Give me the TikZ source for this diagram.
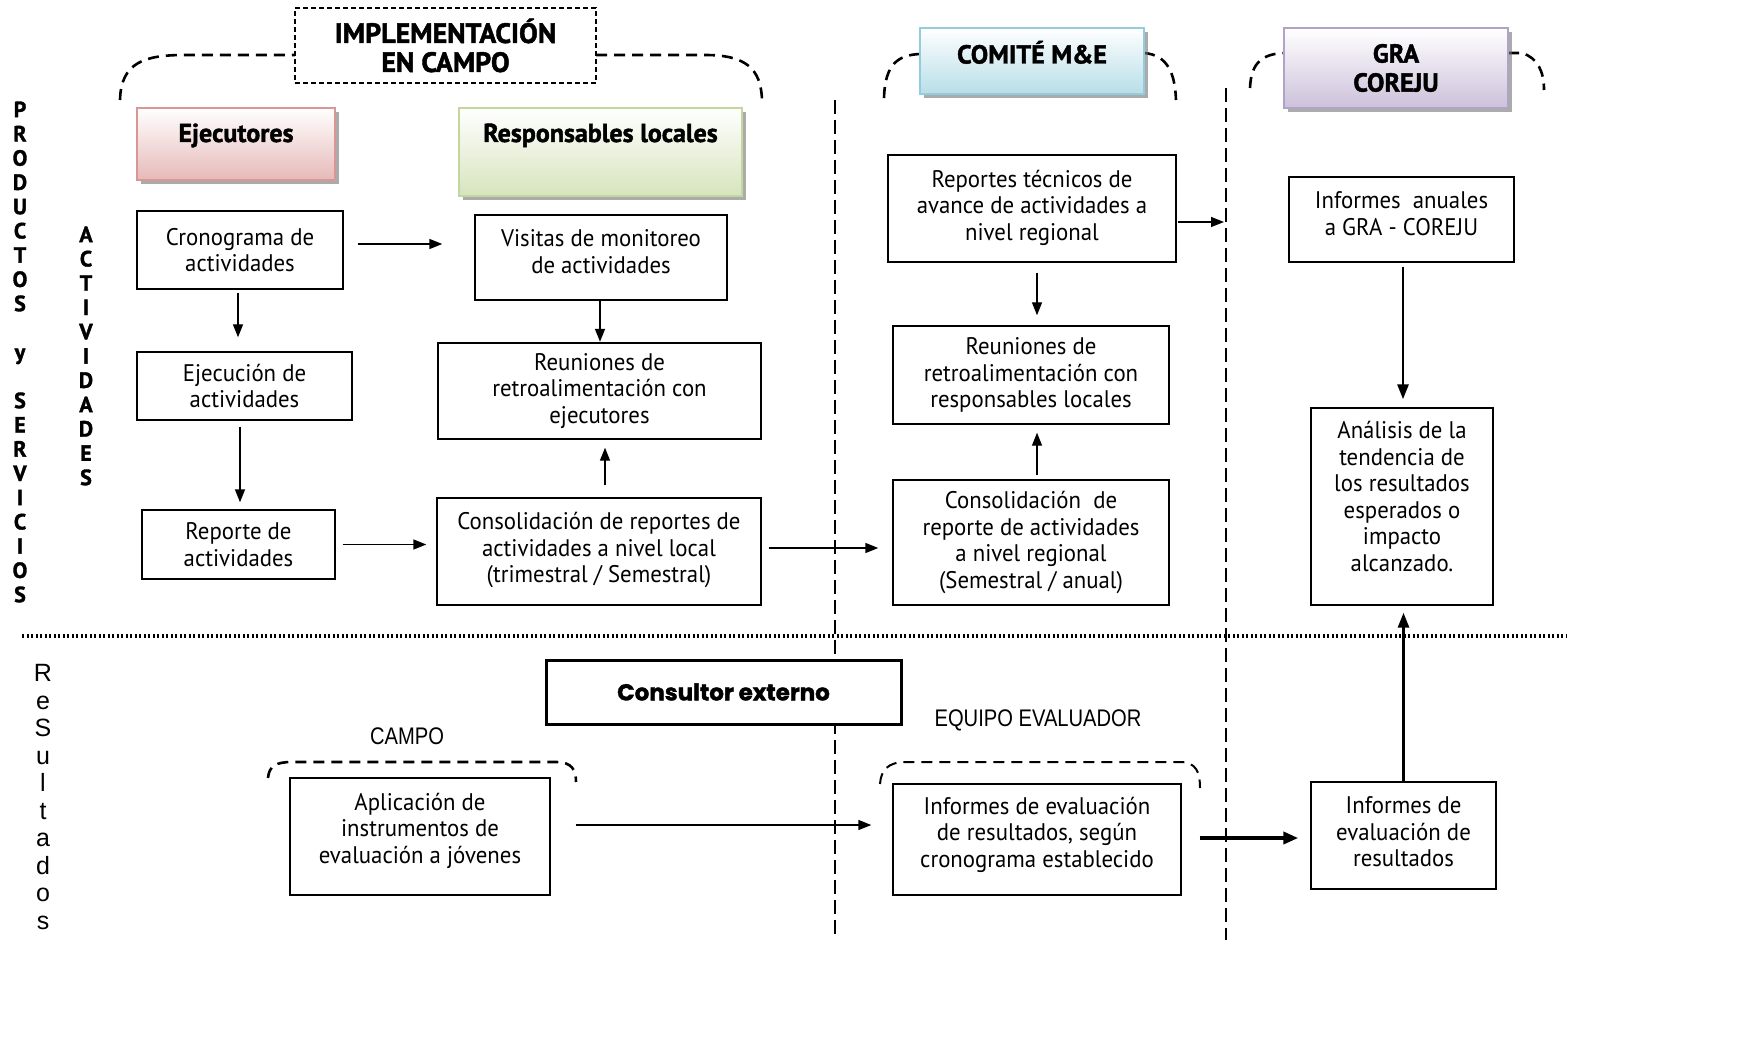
\documentclass[tikz,border=0pt]{standalone}
\usepackage{fontspec}
\setmainfont{PT Sans}[FakeStretch=0.95]
\newfontfamily\hfont{PT Sans}[BoldFeatures={FakeBold=1.6}]
\newfontfamily\heavyfont{Poppins}[BoldFeatures={FakeBold=1.5}]
\newfontfamily\arialfont{Liberation Sans}
\newfontfamily\narrowfont{Liberation Sans}[FakeStretch=0.84]
\usetikzlibrary{arrows.meta,shadows,calc}
\definecolor{ejeB}{HTML}{D99694}\definecolor{ejeF}{HTML}{E6B9B8}
\definecolor{resB}{HTML}{C3D69B}\definecolor{resF}{HTML}{D7E4BD}
\definecolor{comB}{HTML}{93CDDD}\definecolor{comF}{HTML}{B7DEE8}
\definecolor{graB}{HTML}{B3A2C7}\definecolor{graF}{HTML}{CCC1DA}
\newcommand\rbx[2]{\raisebox{#1}[0pt][0pt]{\begin{tabular}{@{}c@{}}#2\end{tabular}}}
\tikzset{
 cbox/.style={draw=black, line width=1.4pt, fill=white, align=center, inner sep=2pt,
   font=\fontsize{24}{26.5}\selectfont},
 hdr/.style={line width=1.6pt, align=center, inner sep=2pt,
   font=\hfont\bfseries\fontsize{26}{29}\selectfont,
   drop shadow={shadow xshift=4pt, shadow yshift=-4pt, fill=black!55, opacity=.6}},
 arr/.style={line width=1.4pt, -{Triangle[length=13pt,width=10pt]}},
 tarr/.style={line width=2.8pt, -{Triangle[length=15pt,width=11pt]}},
 brk/.style={line width=2.6pt, dash pattern=on 11pt off 7pt},
 divider/.style={line width=1.3pt, dash pattern=on 14pt off 6pt},
 vlet/.style={align=center, inner sep=0pt},
}
\begin{document}
\begin{tikzpicture}[x=1pt,y=-1pt]
\useasboundingbox (0,0) rectangle (1751,1048);
\fill[white] (0,0) rectangle (1751,1048);

% dividers
\coordinate (d1top) at (835,100); \coordinate (d1bot) at (835,940);
\coordinate (d2top) at (1226,88); \coordinate (d2bot) at (1226,940);
\coordinate (hl) at (22,636); \coordinate (hr) at (1566,636);
\draw[divider] (d1top) -- (d1bot);
\draw[divider] (d2top) -- (d2bot);
\draw[line width=3.5pt, dash pattern=on 2pt off 2.5pt] (hl) -- (hr);

% dashed brackets
\draw[brk] (120,100) .. controls (121,62) and (145,55) .. (185,55) -- (295,55);
\draw[brk] (596,55) -- (705,55) .. controls (745,55) and (761,68) .. (762,100);
\draw[brk] (884,98) .. controls (885,64) and (898,55) .. (920,54);
\draw[brk] (1144,53) .. controls (1168,55) and (1175,74) .. (1176,100);
\draw[brk] (1250,88) .. controls (1251,62) and (1263,54) .. (1284,53);
\draw[brk] (1508,53) -- (1522,53) .. controls (1538,58) and (1544,72) .. (1544,90);
\draw[brk] (268,778) .. controls (269,766) and (276,762) .. (292,762) -- (556,762) .. controls (572,762) and (576,770) .. (576,782);
\draw[line width=2pt, dash pattern=on 11pt off 7pt] (880,784) .. controls (881,770) and (888,762) .. (906,762) -- (1180,762) .. controls (1196,762) and (1200,772) .. (1200,788);

% vertical labels
\node[vlet, font=\hfont\bfseries\fontsize{22}{24.25}\selectfont] (prod) at (20,352)
 {P\\R\\O\\D\\U\\C\\T\\O\\S\\~\\y\\~\\S\\E\\R\\V\\I\\C\\I\\O\\S};
\node[vlet, font=\hfont\bfseries\fontsize{22}{24.3}\selectfont] (activ) at (86,356)
 {A\\C\\T\\I\\V\\I\\D\\A\\D\\E\\S};
\node[vlet, font=\arialfont\fontsize{25}{27.5}\selectfont] (resul) at (43,797)
 {R\\e\\S\\u\\l\\t\\a\\d\\o\\s};

% header boxes
\node[draw=black, line width=1.3pt, dash pattern=on 5pt off 3pt, fill=white, align=center,
  minimum width=301pt, minimum height=75pt, font=\hfont\bfseries\fontsize{28}{29}\selectfont]
  (impl) at (445.5,45.5) {IMPLEMENTACIÓN\\EN CAMPO};
\node[hdr, draw=ejeB, top color=white, bottom color=ejeF, minimum width=198pt, minimum height=72pt]
  (ejeH) at (236,144) {\raisebox{2pt}[0pt][0pt]{Ejecutores}};
\node[hdr, draw=resB, top color=white, bottom color=resF, minimum width=283pt, minimum height=88pt]
  (resH) at (600.5,152) {\raisebox{10pt}[0pt][0pt]{Responsables locales}};
\node[hdr, draw=comB, top color=white, bottom color=comF, minimum width=224pt, minimum height=66pt]
  (comH) at (1032,61) {\raisebox{-2.5pt}[0pt][0pt]{COMITÉ M\&E}};
\node[hdr, draw=graB, top color=white, bottom color=graF, minimum width=224pt, minimum height=80pt]
  (graH) at (1396,68) {GRA\\COREJU};

% content boxes
\node[cbox, minimum width=206pt, minimum height=78pt] (crono) at (240,250) {Cronograma de\\actividades};
\node[cbox, minimum width=252pt, minimum height=85pt] (visitas) at (601,257.5) {\rbx{-3.5pt}{Visitas de monitoreo\\de actividades}};
\node[cbox, minimum width=215pt, minimum height=68pt] (ejec) at (244.5,386) {Ejecución de\\actividades};
\node[cbox, minimum width=323pt, minimum height=96pt] (reunloc) at (599.5,391) {Reuniones de\\retroalimentación con\\ejecutores};
\node[cbox, minimum width=193pt, minimum height=69pt] (reporte) at (238.5,544.5) {Reporte de\\actividades};
\node[cbox, minimum width=324pt, minimum height=107pt] (consloc) at (599,551.5) {\rbx{-5.5pt}{Consolidación de reportes de\\actividades a nivel local\\(trimestral / Semestral)}};
\node[cbox, minimum width=288pt, minimum height=107pt] (reptec) at (1032,208.5) {\rbx{-6pt}{Reportes técnicos de\\avance de actividades a\\nivel regional}};
\node[cbox, minimum width=276pt, minimum height=98pt] (reunreg) at (1031,375) {Reuniones de\\retroalimentación con\\responsables locales};
\node[cbox, minimum width=276pt, minimum height=125pt] (consreg) at (1031,542.5) {Consolidación\ \ de\\reporte de actividades\\a nivel regional\\(Semestral / anual)};
\node[cbox, minimum width=225pt, minimum height=85pt] (infanual) at (1401.5,219.5) {\rbx{-3.5pt}{Informes\ \ anuales\\a GRA - COREJU}};
\node[cbox, minimum width=182pt, minimum height=197pt] (analisis) at (1402,506.5) {\rbx{0.5pt}{Análisis de la\\tendencia de\\los resultados\\esperados o\\impacto\\alcanzado.}};
\node[cbox, line width=3pt, minimum width=355pt, minimum height=64pt, font=\heavyfont\bfseries\fontsize{23}{26}\selectfont]
  (consultor) at (723.5,692) {Consultor externo};
\node[font=\narrowfont\fontsize{24}{26}\selectfont] (campo) at (407,736) {CAMPO};
\node[font=\narrowfont\fontsize{24}{26}\selectfont] (equipo) at (1038,720) {EQUIPO EVALUADOR};
\node[cbox, minimum width=260pt, minimum height=117pt] (aplic) at (420,836.5) {\rbx{-1pt}{Aplicación de\\instrumentos de\\evaluación a jóvenes}};
\node[cbox, minimum width=288pt, minimum height=111pt] (infeval) at (1037,839.5) {\rbx{-2pt}{Informes de evaluación\\de resultados, según\\cronograma establecido}};
\node[cbox, minimum width=185pt, minimum height=107pt] (infres) at (1403.5,835.5) {\rbx{-5.5pt}{Informes de\\evaluación de\\resultados}};

% connectors
\draw[arr, shorten <=14pt, shorten >=32pt] ([yshift=6pt]crono.east) -- ([yshift=6pt]crono.east -| visitas.west);
\draw[arr, shorten <=3pt, shorten >=14pt] ([xshift=-2pt]crono.south) -- ([xshift=-2pt]crono.south |- ejec.north);
\draw[arr, shorten <=6pt, shorten >=7pt] ([xshift=-4.5pt]ejec.south) -- ([xshift=-4.5pt]ejec.south |- reporte.north);
\draw[arr, shorten >=0.5pt] ([xshift=-1pt]visitas.south) -- ([xshift=-1pt]visitas.south |- reunloc.north);
\draw[arr, shorten <=12pt, shorten >=8pt] ([xshift=6pt]consloc.north) -- ([xshift=6pt]consloc.north |- reunloc.south);
\draw[arr, shorten <=7pt, shorten >=10pt] (reporte.east) -- (reporte.east -| consloc.west);
\draw[arr, shorten <=7pt, shorten >=14pt] ([yshift=3.5pt]consloc.east) -- ([yshift=3.5pt]consloc.east -| consreg.west);
\draw[arr, shorten <=1pt, shorten >=2pt] ([yshift=-13.5pt]reptec.east) -- ([yshift=-13.5pt]reptec.east -| d2top);
\draw[arr, shorten <=10pt, shorten >=10pt] ([xshift=5pt]reptec.south) -- ([xshift=5pt]reptec.south |- reunreg.north);
\draw[arr, shorten <=4pt, shorten >=8pt] ([xshift=6pt]consreg.north) -- ([xshift=6pt]consreg.north |- reunreg.south);
\draw[tarr, shorten <=4pt, shorten >=8pt] ([xshift=1.5pt]infanual.south) -- ([xshift=1.5pt]infanual.south |- analisis.north);
\draw[tarr, shorten >=7pt] (infres.north) -- (infres.north |- analisis.south);
\draw[arr, shorten <=25pt, shorten >=21pt] ([yshift=11.5pt]aplic.east) -- ([yshift=11.5pt]aplic.east -| infeval.west);
\draw[line width=4pt, -{Triangle[length=15pt,width=12pt]}, shorten <=18pt, shorten >=12pt] ([yshift=1.5pt]infeval.east) -- ([yshift=1.5pt]infeval.east -| infres.west);
\end{tikzpicture}
\end{document}
